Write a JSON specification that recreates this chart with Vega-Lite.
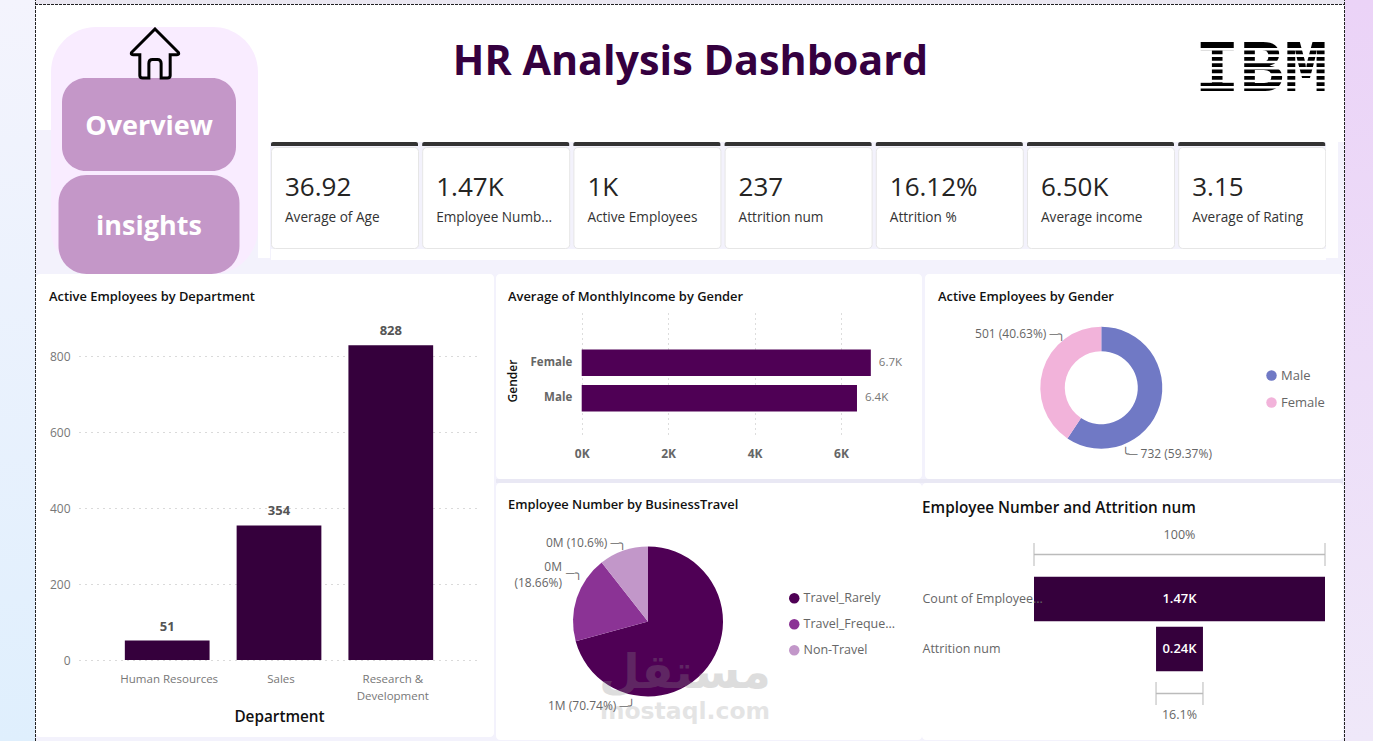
{
  "$schema": "https://vega.github.io/schema/vega-lite/v6.json",
  "padding": 0,
  "background": "#f3f2fc",
  "config": {
    "font": "Open Sans",
    "view": {"stroke": null},
    "concat": {"spacing": 0},
    "axis": {"labelFont": "Open Sans", "titleFont": "Open Sans", "domain": false, "ticks": false},
    "legend": {"labelFont": "Open Sans"},
    "title": {"font": "Open Sans"}
  },
  "datasets": {
    "blank": [{"part": "spacer"}],
    "kpi": [
      {"label": "Average of Age", "value": "36.92"},
      {"label": "Employee Numb...", "value": "1.47K"},
      {"label": "Active Employees", "value": "1K"},
      {"label": "Attrition num", "value": "237"},
      {"label": "Attrition %", "value": "16.12%"},
      {"label": "Average income", "value": "6.50K"},
      {"label": "Average of Rating", "value": "3.15"}
    ],
    "nav": [{"label": "Overview", "menu": "main"}, {"label": "insights", "menu": "main"}],
    "stripes": [{"s": "a"}, {"s": "b"}, {"s": "c"}, {"s": "d"}, {"s": "e"}, {"s": "f"}, {"s": "g"}],
    "dept": [
      {"department": "Human Resources", "active": 51},
      {"department": "Sales", "active": 354},
      {"department": "Research & Development", "active": 828}
    ],
    "income": [
      {"gender": "Female", "income": 6690, "label": "6.7K"},
      {"gender": "Male", "income": 6370, "label": "6.4K"}
    ],
    "gender": [
      {"gender": "Male", "active": 732, "rank": 1},
      {"gender": "Female", "active": 501, "rank": 2}
    ],
    "travel": [
      {"travel": "Travel_Rarely", "share": 70.74, "rank": 1},
      {"travel": "Travel_Frequently", "share": 18.66, "rank": 2},
      {"travel": "Non-Travel", "share": 10.6, "rank": 3}
    ],
    "funnel": [
      {"step": "Count of Employee...", "count": 1470, "label": "1.47K", "pct": "100%"},
      {"step": "Attrition num", "count": 237, "label": "0.24K", "pct": "16.1%"}
    ]
  },
  "resolve": {"scale": {"color": "independent"}, "legend": {"color": "independent"}},
  "hconcat": [
    {"width": 35, "height": 741, "data": {"name": "blank"},
     "mark": {"type": "rect", "fill": {"gradient": "linear", "x1": 0, "y1": 0, "x2": 0, "y2": 1, "stops": [{"offset": 0, "color": "#f4f4fd"}, {"offset": 1, "color": "#dfeffd"}]}}},
    {"width": 1, "height": 741, "data": {"name": "blank"},
     "mark": {"type": "rect", "clip": true, "fillOpacity": 0, "stroke": "#222222", "strokeDash": [2, 2], "strokeWidth": 2}},
    {"resolve": {"scale": {"color": "independent"}, "legend": {"color": "independent"}},
     "vconcat": [
      {"width": 1308, "height": 4, "data": {"name": "blank"}, "mark": {"type": "rect", "fill": "#eae7f1"}},
      {"width": 1308, "height": 1, "data": {"name": "blank"},
       "mark": {"type": "rect", "clip": true, "fillOpacity": 0, "stroke": "#222222", "strokeDash": [2, 2], "strokeWidth": 2}},
      {"hconcat": [
        {"width": 15, "height": 125, "data": {"name": "blank"}, "mark": {"type": "rect", "fill": "white"}},
        {"vconcat": [
          {"width": 207, "height": 22, "data": {"name": "blank"}, "mark": {"type": "rect", "fill": "white"}},
          {"width": 207, "height": 247,
           "view": {"fill": {"gradient": "linear", "x1": 0, "y1": 0, "x2": 0, "y2": 1, "stops": [{"offset": 0.417, "color": "white"}, {"offset": 0.417, "color": "#f3f2fc"}]}},
           "layer": [
             {"data": {"name": "blank"}, "mark": {"type": "rect", "fill": "#f9ecff", "cornerRadius": 45}},
             {"data": {"name": "nav"},
              "encoding": {
                "x": {"field": "menu", "type": "nominal", "scale": {"type": "point", "range": [98, 98]}, "axis": null},
                "y": {"field": "label", "type": "nominal", "sort": null, "scale": {"type": "point", "padding": 0, "domain": ["Overview", "insights"], "range": [97.5, 197.5]}, "axis": null}
              },
              "layer": [
                {"transform": [{"filter": "datum.label == 'Overview'"}], "mark": {"type": "rect", "width": 174, "height": 93, "cornerRadius": 24, "fill": "#c497c8"}},
                {"transform": [{"filter": "datum.label == 'insights'"}], "mark": {"type": "rect", "width": 181, "height": 99, "cornerRadius": 28, "fill": "#c497c8"}},
                {"mark": {"type": "text", "fontSize": 27, "fontWeight": "bold", "color": "white", "dy": 2.5}, "encoding": {"text": {"field": "label"}}},
                {"transform": [{"filter": "datum.label == 'Overview'"}],
                 "mark": {"type": "point", "clip": true, "size": 2400, "strokeWidth": 3, "stroke": "black", "fill": "transparent", "opacity": 1, "xOffset": 6, "yOffset": -71,
                   "shape": "M0,-1 L0.95,-0.05 Q1,0.05 0.9,0.05 L0.62,0.05 L0.62,0.9 Q0.62,1 0.5,1 L0.25,1 L0.25,0.4 Q0.25,0.25 0.1,0.25 L-0.1,0.25 Q-0.25,0.25 -0.25,0.4 L-0.25,1 L-0.5,1 Q-0.62,1 -0.62,0.9 L-0.62,0.05 L-0.9,0.05 Q-1,0.05 -0.95,-0.05 Z"}}
              ]}
           ]}
        ]},
        {"vconcat": [
          {"width": 1086, "height": 137, "view": {"fill": "white"},
           "layer": [
             {"data": {"name": "blank"}, "mark": {"type": "text", "text": "IBM", "font": "Liberation Mono", "fontWeight": "bold", "fontSize": 74, "dx": 460.5, "dy": -5, "color": "black"}},
             {"data": {"name": "stripes"}, "mark": {"type": "rule", "clip": true, "color": "white", "strokeWidth": 2.6},
              "encoding": {"y": {"field": "s", "type": "nominal", "axis": null, "scale": {"type": "point", "padding": 0, "range": [44.3, 82.3]}}}},
             {"data": {"name": "blank"}, "mark": {"type": "text", "text": "HR Analysis Dashboard", "fontWeight": "bold", "fontSize": 41.3, "dx": -110.5, "dy": -10.5, "color": "#35003f"}}
           ]},
          {"hconcat": [
            {"width": 12, "height": 116, "data": {"name": "blank"}, "mark": {"type": "rect", "fill": "white"}},
            {"vconcat": [
              {"data": {"name": "kpi"},
               "facet": {"column": {"field": "label", "header": null, "sort": ["Average of Age", "Employee Numb...", "Active Employees", "Attrition num", "Attrition %", "Average income", "Average of Rating"]}},
               "spacing": 4.2,
               "spec": {"width": 147, "height": 4, "mark": {"type": "rect", "color": "#333333", "cornerRadiusTopLeft": 3, "cornerRadiusTopRight": 3}}},
              {"data": {"name": "kpi"},
               "facet": {"column": {"field": "label", "header": null, "sort": ["Average of Age", "Employee Numb...", "Active Employees", "Attrition num", "Attrition %", "Average income", "Average of Rating"]}},
               "spacing": 2.2,
               "spec": {"width": 147, "height": 101, "view": {"fill": "white", "stroke": "#e6e6e6", "cornerRadius": 4},
                 "layer": [
                   {"mark": {"type": "text", "align": "left", "fontSize": 26, "dx": -59.5, "dy": -9.5, "color": "#252423"}, "encoding": {"text": {"field": "value"}}},
                   {"mark": {"type": "text", "align": "left", "fontSize": 13.6, "dx": -59.5, "dy": 20.5, "color": "#333333"}, "encoding": {"text": {"field": "label"}}}
                 ]}},
              {"width": 1055, "height": 11, "data": {"name": "blank"}, "mark": {"type": "rect", "fill": "white"}}
            ]},
            {"width": 12, "height": 116, "data": {"name": "blank"}, "mark": {"type": "rect", "fill": "white"}}
          ]}
        ]}
      ]},
      {"resolve": {"scale": {"color": "independent"}, "legend": {"color": "independent"}},
       "hconcat": [
        {"width": 458, "height": 463, "view": {"fill": "white", "cornerRadius": 4},
         "title": {"text": "Active Employees by Department", "anchor": "start", "frame": "group", "offset": -30, "dx": 13, "fontSize": 12.9, "fontWeight": 600, "color": "#111111"},
         "data": {"name": "dept"},
         "encoding": {
           "x": {"field": "department", "type": "nominal", "sort": null,
             "scale": {"range": [43, 443], "paddingInner": 0.242, "paddingOuter": 0.41},
             "axis": {"orient": "bottom", "offset": -77, "labelAngle": 0, "labelPadding": 13, "labelOffset": 2, "labelColor": "#777777", "labelFontSize": 11.5, "labelLineHeight": 17,
               "labelExpr": "datum.label == 'Research & Development' ? ['Research &', 'Development'] : datum.label",
               "title": "Department", "titleFontSize": 15.3, "titleFontWeight": 600, "titleColor": "#111111", "titlePadding": 8, "grid": false}},
           "y": {"field": "active", "type": "quantitative",
             "scale": {"domain": [0, 800], "range": [386, 82], "nice": false},
             "axis": {"title": null, "offset": -43, "values": [0, 200, 400, 600, 800], "labelPadding": 9, "labelColor": "#777777", "labelFontSize": 12, "grid": true, "gridDash": [1, 5], "gridColor": "#b5b5b5"}}
         },
         "layer": [
           {"mark": {"type": "bar", "color": "#35003c"}},
           {"mark": {"type": "text", "dy": -14, "fontSize": 13, "fontWeight": "bold", "color": "#555555"}, "encoding": {"text": {"field": "active"}}}
         ]},
        {"width": 2, "height": 463, "data": {"name": "blank"}, "mark": {"type": "rect", "fill": "#f3f2fc"}},
        {"resolve": {"scale": {"color": "independent"}, "legend": {"color": "independent"}},
         "vconcat": [
          {"width": 426, "height": 205, "view": {"fill": "white", "cornerRadius": 4},
           "title": {"text": "Average of MonthlyIncome by Gender", "anchor": "start", "frame": "group", "offset": -30, "dx": 12, "fontSize": 12.9, "fontWeight": 600, "color": "#111111"},
           "data": {"name": "income"},
           "encoding": {
             "x": {"field": "income", "type": "quantitative",
               "scale": {"domain": [0, 6000], "range": [85.7, 345], "nice": false},
               "axis": {"orient": "bottom", "offset": -37, "values": [0, 2000, 4000, 6000], "labelFlush": false, "labelExpr": "datum.value / 1000 + 'K'", "labelPadding": 6, "labelFontWeight": "bold", "labelColor": "#666666", "labelFontSize": 12, "title": null, "grid": true, "gridDash": [1, 4], "gridColor": "#bbbbbb"}},
             "y": {"field": "gender", "type": "nominal", "sort": null,
               "scale": {"range": [45, 168], "paddingInner": 0.25, "paddingOuter": 0.86},
               "axis": {"offset": -85.7, "labelPadding": 10, "labelFontWeight": "bold", "labelColor": "#666666", "labelFontSize": 11.5, "title": "Gender", "titleFontSize": 12, "titleFontWeight": 600, "titleColor": "#111111", "titlePadding": 11, "grid": false}}
           },
           "layer": [
             {"mark": {"type": "bar", "color": "#4f0055"}},
             {"mark": {"type": "text", "align": "left", "dx": 8, "fontSize": 11.5, "color": "#777777"}, "encoding": {"text": {"field": "label"}}}
           ]},
          {"width": 426, "height": 4, "data": {"name": "blank"}, "mark": {"type": "rect", "fill": "#e9e8f4"}},
          {"width": 426, "height": 257, "view": {"fill": "white", "cornerRadius": 4},
           "title": {"text": "Employee Number by BusinessTravel", "anchor": "start", "frame": "group", "offset": -29, "dx": 12, "fontSize": 12.9, "fontWeight": 600, "color": "#111111"},
           "data": {"name": "travel"},
           "layer": [
             {"mark": {"type": "arc", "outerRadius": 75, "xOffset": -61, "yOffset": 10},
              "encoding": {
                "theta": {"field": "share", "type": "quantitative", "stack": true},
                "order": {"field": "rank"},
                "color": {"field": "travel", "type": "nominal", "sort": null,
                  "scale": {"domain": ["Travel_Rarely", "Travel_Frequently", "Non-Travel"], "range": ["#4f0055", "#8b3395", "#c297c9"]},
                  "legend": {"title": null, "orient": "none", "legendX": 292, "legendY": 109, "symbolType": "circle", "symbolSize": 110, "labelFontSize": 12.5, "labelColor": "#666666", "rowPadding": 13, "labelOffset": 3,
                    "labelExpr": "truncate(datum.label, 16, 'right', '...')"}}
              }},
             {"transform": [{"filter": "datum.rank == 3"}], "mark": {"type": "text", "text": "0M (10.6%) ─╮", "align": "right", "baseline": "middle", "fontSize": 12, "color": "#666666", "dx": -83, "dy": -69}},
             {"transform": [{"filter": "datum.rank == 2"}], "mark": {"type": "text", "text": ["0M", "(18.66%)"], "align": "right", "baseline": "middle", "lineHeight": 16, "fontSize": 12, "color": "#666666", "dx": -147, "dy": -45}},
             {"transform": [{"filter": "datum.rank == 2"}], "mark": {"type": "text", "text": "─╮", "align": "left", "baseline": "middle", "fontSize": 12, "color": "#666666", "dx": -143, "dy": -39}},
             {"transform": [{"filter": "datum.rank == 1"}], "mark": {"type": "text", "text": "1M (70.74%) ─╯", "align": "right", "baseline": "middle", "fontSize": 12, "color": "#666666", "dx": -74, "dy": 94}},
             {"transform": [{"filter": "datum.rank == 1"}], "mark": {"type": "text", "text": "مستقل", "font": "DejaVu Sans", "fontWeight": "bold", "fontSize": 47, "color": "#888888", "opacity": 0.28, "dx": -24, "dy": 62}},
             {"transform": [{"filter": "datum.rank == 1"}], "mark": {"type": "text", "text": "mostaql.com", "font": "DejaVu Sans", "fontWeight": "bold", "fontSize": 23.5, "color": "#888888", "opacity": 0.22, "dx": -24, "dy": 100}}
           ]}
        ]},
        {"resolve": {"scale": {"color": "independent"}, "legend": {"color": "independent"}},
         "vconcat": [
          {"resolve": {"scale": {"color": "independent"}, "legend": {"color": "independent"}},
           "hconcat": [
            {"width": 3, "height": 205, "data": {"name": "blank"}, "mark": {"type": "rect", "fill": "#f3f2fc"}},
            {"width": 418, "height": 205, "view": {"fill": "white", "cornerRadius": 4},
             "title": {"text": "Active Employees by Gender", "anchor": "start", "frame": "group", "offset": -30, "dx": 13, "fontSize": 12.9, "fontWeight": 600, "color": "#111111"},
             "data": {"name": "gender"},
             "layer": [
               {"mark": {"type": "arc", "outerRadius": 61, "innerRadius": 36.5, "xOffset": -32.7, "yOffset": 11.2},
                "encoding": {
                  "theta": {"field": "active", "type": "quantitative", "stack": true},
                  "order": {"field": "rank"},
                  "color": {"field": "gender", "type": "nominal", "sort": null,
                    "scale": {"domain": ["Male", "Female"], "range": ["#7079c5", "#f2b3da"]},
                    "legend": {"title": null, "orient": "none", "legendX": 340, "legendY": 95, "symbolType": "circle", "symbolSize": 110, "labelFontSize": 13, "labelColor": "#666666", "rowPadding": 13, "labelOffset": 3}}
                }},
               {"transform": [{"filter": "datum.rank == 2"}], "mark": {"type": "text", "text": "501 (40.63%) ─╮", "align": "right", "baseline": "middle", "fontSize": 12, "color": "#666666", "dx": -69, "dy": -43}},
               {"transform": [{"filter": "datum.rank == 1"}], "mark": {"type": "text", "text": "╰─ 732 (59.37%)", "align": "left", "baseline": "middle", "fontSize": 12, "color": "#666666", "dx": -12, "dy": 77}}
             ]}
          ]},
          {"width": 421, "height": 4, "data": {"name": "blank"}, "mark": {"type": "rect", "fill": "#e9e8f4"}},
          {"width": 421, "height": 257, "view": {"fill": "white", "cornerRadius": 4},
           "title": {"text": "Employee Number and Attrition num", "anchor": "start", "frame": "group", "offset": -33, "fontSize": 15.3, "fontWeight": 600, "color": "#111111"},
           "data": {"name": "funnel"},
           "transform": [{"stack": "count", "groupby": ["step"], "offset": "center", "as": ["x0", "x1"]}],
           "encoding": {
             "x": {"field": "x0", "type": "quantitative", "scale": {"domain": [0, 1470], "range": [112, 403], "nice": false}, "axis": null},
             "y": {"field": "step", "type": "nominal", "sort": null,
               "scale": {"range": [91, 191], "paddingInner": 0.108, "paddingOuter": 0.054},
               "axis": {"title": null, "labelAlign": "left", "labelPadding": 0, "labelFontSize": 12.5, "labelColor": "#666666", "labelLimit": 140, "zindex": 1}}
           },
           "layer": [
             {"mark": {"type": "bar", "color": "#35003c"}, "encoding": {"x2": {"field": "x1"}}},
             {"mark": {"type": "text", "fontSize": 13, "fontWeight": 600, "color": "white", "dx": 47}, "encoding": {"x": {"value": 210.5}, "text": {"field": "label"}}},
             {"transform": [{"filter": "datum.count == 1470"}], "mark": {"type": "bar", "size": 1.5, "color": "#bbbbbb", "yOffset": -44.5}, "encoding": {"x2": {"field": "x1"}}},
             {"transform": [{"filter": "datum.count == 237"}], "mark": {"type": "bar", "size": 1.5, "color": "#bbbbbb", "yOffset": 44.5}, "encoding": {"x2": {"field": "x1"}}},
             {"transform": [{"filter": "datum.count == 1470"}], "mark": {"type": "tick", "size": 23, "thickness": 1.5, "color": "#bbbbbb", "yOffset": -44.5}},
             {"transform": [{"filter": "datum.count == 1470"}], "mark": {"type": "tick", "size": 23, "thickness": 1.5, "color": "#bbbbbb", "yOffset": -44.5}, "encoding": {"x": {"field": "x1", "type": "quantitative"}}},
             {"transform": [{"filter": "datum.count == 237"}], "mark": {"type": "tick", "size": 23, "thickness": 1.5, "color": "#bbbbbb", "yOffset": 44.5}},
             {"transform": [{"filter": "datum.count == 237"}], "mark": {"type": "tick", "size": 23, "thickness": 1.5, "color": "#bbbbbb", "yOffset": 44.5}, "encoding": {"x": {"field": "x1", "type": "quantitative"}}},
             {"transform": [{"filter": "datum.count == 1470"}], "mark": {"type": "text", "fontSize": 12.5, "color": "#666666", "dx": 47, "dy": -64}, "encoding": {"x": {"value": 210.5}, "text": {"field": "pct"}}},
             {"transform": [{"filter": "datum.count == 237"}], "mark": {"type": "text", "fontSize": 12.5, "color": "#666666", "dx": 47, "dy": 66}, "encoding": {"x": {"value": 210.5}, "text": {"field": "pct"}}}
           ]}
        ]}
      ]}
    ]},
    {"width": 1, "height": 741, "data": {"name": "blank"},
     "mark": {"type": "rect", "clip": true, "fillOpacity": 0, "stroke": "#222222", "strokeDash": [2, 2], "strokeWidth": 2}},
    {"width": 28, "height": 741, "data": {"name": "blank"},
     "mark": {"type": "rect", "fill": {"gradient": "linear", "x1": 0, "y1": 0, "x2": 0, "y2": 1, "stops": [{"offset": 0, "color": "#ebd3f7"}, {"offset": 1, "color": "#efe8f9"}]}}}
  ]
}
